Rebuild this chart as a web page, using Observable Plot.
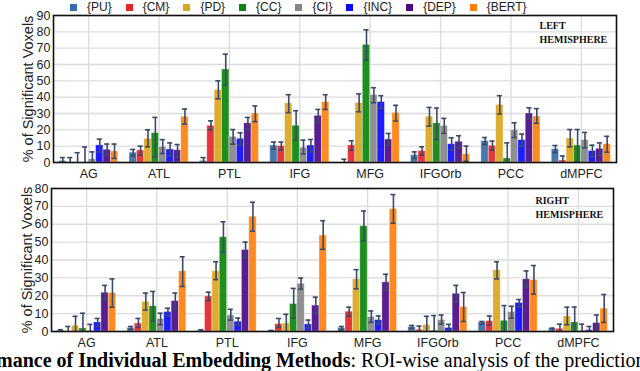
<!DOCTYPE html>
<html>
<head>
<meta charset="utf-8">
<script src="https://cdn.jsdelivr.net/npm/d3@7"></script>
<script src="https://cdn.jsdelivr.net/npm/@observablehq/plot@0.6"></script>
<style>
  html, body { margin: 0; padding: 0; background: #fff; }
  #wrap { position: relative; width: 640px; height: 371px; overflow: hidden; background: #fff; }
  #legend { position: absolute; left: 70px; top: 0px; height: 14px; display: flex; align-items: center; font-family: "Liberation Sans", Arial, sans-serif; font-size: 12px; line-height: 14px; color: #222; white-space: nowrap; }
  #legend .item { display: inline-flex; align-items: center; margin-right: 14px; }
  #legend .sw { display: inline-block; width: 7px; height: 7px; margin-right: 10px; }
  #top { position: absolute; left: 0; top: 0; }
  #bottom { position: absolute; left: 0; top: 182px; }
  #caption { position: absolute; left: -4px; top: 352px; white-space: nowrap; font-family: "Liberation Serif", "Times New Roman", serif; font-size: 20px; line-height: 16px; color: #000; }
  #caption b { font-weight: bold; }
</style>
</head>
<body>
<div id="wrap">
  <div id="top"></div>
  <div id="bottom"></div>
  <div id="legend"></div>
  <div id="caption"><b>mance of Individual Embedding Methods</b>: ROI-wise analysis of the prediction</div>
</div>
<script>
const rois = ["AG", "ATL", "PTL", "IFG", "MFG", "IFGOrb", "PCC", "dMPFC"];
const methods = ["{PU}", "{CM}", "{PD}", "{CC}", "{CI}", "{INC}", "{DEP}", "{BERT}"];
const colors = ["#3a6ba6", "#e3252b", "#daa520", "#0b850b", "#858585", "#0a0aff", "#4b0a86", "#ff800e"];
const yLabel = "% of Significant Voxels";
const leftTicks = [0, 10, 20, 30, 40, 50, 60, 70, 80, 90];
const rightTicks = [0, 10, 20, 30, 40, 50, 60, 70, 80];

// rows: ROI, columns: methods (PU, CM, PD, CC, CI, INC, DEP, BERT)
const leftMean = [
  [1, 0, 0, 0, 2, 10.5, 7.8, 6.8],
  [6, 7.4, 14.5, 18, 9.5, 8, 7.5, 28],
  [1, 22.5, 44.4, 57, 15.7, 14.5, 24, 30],
  [10.4, 10, 36.2, 22.5, 9, 10.4, 28.6, 37],
  [0, 10.5, 36.4, 72, 41.3, 37, 14.1, 30.3],
  [4.5, 7, 28, 24, 22.3, 11.2, 12.7, 5.1],
  [13.1, 10.2, 35.2, 2.5, 19.8, 13.7, 30, 28.2],
  [8.2, 1.2, 14.7, 10.4, 13.7, 7, 8.4, 11.2]
];
const leftHi = [
  [3, 3, 6, 9.5, 6.5, 14.3, 11.3, 11.3],
  [8, 10, 20, 27.6, 14, 12, 11, 32.7],
  [3, 25.5, 50, 66.3, 20.2, 18.2, 27.6, 34.6],
  [12.5, 12.5, 41.5, 31.7, 13.7, 14.1, 32.5, 41.5],
  [2, 13.3, 42, 81.2, 45.8, 40.9, 17.8, 35],
  [6.5, 9.6, 33.7, 33.3, 27, 15.1, 16.4, 10],
  [15.3, 13.1, 40.9, 12, 24.3, 17.4, 33.5, 33],
  [10.4, 4, 20.2, 20.2, 18.4, 10.6, 12, 16]
];
const leftLo = [
  [0, 0, 0, 0, 0, 6.5, 4.5, 2.5],
  [4, 4.5, 9.6, 3.5, 5.5, 4, 3.5, 23.5],
  [0, 20, 39, 47.4, 11.2, 10.6, 20.2, 25],
  [8.2, 7.6, 30.5, 13.7, 5.3, 6.5, 24.5, 32.5],
  [0, 7.6, 31, 62.8, 36.6, 33, 10.4, 25.4],
  [2.5, 4.5, 22.3, 14.1, 17.8, 7.6, 9, 0.8],
  [11, 7.6, 29.7, 0, 15.3, 10, 26.6, 24],
  [6.1, 0, 9.6, 0.4, 9, 3.5, 4.3, 6.3]
];
const rightMean = [
  [0.5, 0, 3.2, 1.7, 0.5, 5.1, 21.7, 21.5],
  [2, 4.5, 16.6, 14.1, 7, 10.9, 17, 33.7],
  [0.5, 19.6, 33.7, 52.7, 9, 5.5, 45.6, 64.2],
  [0.3, 4.1, 4.5, 15.4, 26.7, 4, 14.5, 53.7],
  [2, 11.1, 29.2, 58.9, 8.1, 6.4, 27.5, 68.5],
  [2.6, 1, 3.6, 0.5, 6.4, 2, 21.1, 13.7],
  [5.1, 5.8, 34.3, 6, 10.9, 16, 29.2, 28.8],
  [1.7, 1.5, 8.5, 5.1, 0.5, 0.8, 4.7, 12.8]
];
const rightHi = [
  [1, 2.8, 8.5, 10.2, 4, 7.3, 25.8, 29.4],
  [2.8, 7.3, 21.5, 22.4, 10.2, 13, 21.5, 41.8],
  [1, 22, 39, 61.4, 12.4, 7.5, 50, 72.3],
  [0.6, 7.3, 9.6, 24.1, 29.9, 6.4, 19.2, 62],
  [2.8, 13.6, 34.6, 67.4, 11.5, 8.7, 32, 76.6],
  [3.4, 3, 8.5, 8.9, 9.2, 4, 25.8, 21.8],
  [5.6, 8.7, 39, 14.5, 14.1, 17.9, 33.9, 36.9],
  [1.9, 4.1, 13.6, 13.7, 4.1, 2.8, 9.2, 20.7]
];
const rightLo = [
  [0, 0, 0, 0, 0, 2.8, 17.7, 13.6],
  [1.1, 2.3, 12, 5.8, 3.8, 8.9, 12.6, 25.2],
  [0, 17.3, 29, 44.4, 6.4, 3.4, 41.2, 56.1],
  [0, 2.3, 0, 7.5, 23.7, 2, 10.2, 46],
  [0.9, 8.7, 23.9, 50.7, 5.1, 4.1, 23, 60.6],
  [1.7, 0, 0, 0, 4.1, 0, 16.8, 5.6],
  [4.1, 3.6, 29.4, 0, 7.5, 13.9, 24.9, 20.9],
  [0, 0, 3.8, 0, 0, 0, 0, 5.1]
];

const BW = 0.105;   // bar width as a fraction of one ROI slot
const CAP = 0.036;  // half cap width

function buildRows(mean, lo, hi) {
  const rows = [];
  rois.forEach((roi, i) => {
    methods.forEach((m, j) => {
      const x1 = i + 0.5 + (j - 4) * BW;
      rows.push({roi, method: m, x1, x2: x1 + BW, c: x1 + BW / 2, v: mean[i][j], lo: lo[i][j], hi: hi[i][j]});
    });
  });
  return rows;
}

function panel(rows, yMax, yTicks, label, margins, height) {
  const roiTicks = rois.map((_, i) => i + 0.5);
  const err = "#3b4a68";
  return Plot.plot({
    width: 640,
    height,
    marginLeft: margins.left,
    marginRight: margins.right,
    marginTop: margins.top,
    marginBottom: margins.bottom,
    style: {fontFamily: "'Liberation Sans', Arial, sans-serif", fontSize: "12.5px", color: "#222", background: "transparent", overflow: "visible"},
    x: {domain: [0, rois.length]},
    y: {domain: [0, yMax]},
    color: {domain: methods, range: colors},
    marks: [
      Plot.gridY({ticks: yTicks, stroke: "#dcdcdc", strokeOpacity: 1, strokeWidth: 1.3}),
      Plot.gridX({ticks: roiTicks, stroke: "#dcdcdc", strokeOpacity: 1, strokeWidth: 1.3}),
      Plot.rectY(rows, {x1: "x1", x2: "x2", y1: 0, y2: "v", fill: "method", fillOpacity: 0.92, stroke: "white", strokeOpacity: 0.45, strokeWidth: 0.8}),
      Plot.ruleX(rows, {x: "c", y1: d => Math.max(0, d.lo), y2: "hi", stroke: err, strokeWidth: 1.6}),
      Plot.ruleY(rows, {y: "hi", x1: d => d.c - CAP, x2: d => d.c + CAP, stroke: err, strokeWidth: 1.6}),
      Plot.ruleY(rows.filter(d => d.lo > 0.3), {y: "lo", x1: d => d.c - CAP, x2: d => d.c + CAP, stroke: err, strokeWidth: 1.6}),
      Plot.frame({stroke: "#111", strokeWidth: 1.6}),
      Plot.axisY({ticks: yTicks, tickSize: 0, tickPadding: 3, label: null}),
      Plot.axisX({ticks: roiTicks, tickSize: 0, tickPadding: 7, label: null, tickFormat: d => rois[Math.floor(d)]}),
      Plot.text([yLabel], {frameAnchor: "left", textAnchor: "middle", rotate: -90, dx: margins.ylab, fontSize: 14.5, text: d => d, fill: "#222"}),
      Plot.text([label], {frameAnchor: "top-right", textAnchor: "start", lineAnchor: "top", dx: margins.hx, dy: margins.hy, fontSize: 10, fontWeight: "bold", fontFamily: "'Liberation Serif', 'Times New Roman', serif", lineHeight: 1.35, text: d => d, fill: "#111"})
    ]
  });
}

document.getElementById("top").append(
  panel(buildRows(leftMean, leftLo, leftHi), 90, leftTicks, "LEFT\nHEMISPHERE",
        {left: 53, right: 24, top: 15, bottom: 20, ylab: -25, hx: -77, hy: 4}, 182)
);
document.getElementById("bottom").append(
  panel(buildRows(rightMean, rightLo, rightHi), 80, rightTicks, "RIGHT\nHEMISPHERE",
        {left: 51, right: 27, top: 6, bottom: 19, ylab: -24, hx: -78, hy: 6}, 168)
);

// legend built from the method / colour arrays
const lg = d3.select("#legend");
methods.forEach((m, j) => {
  const it = lg.append("span").attr("class", "item");
  it.append("span").attr("class", "sw").style("background", colors[j]);
  it.append("span").text(m);
});
</script>
</body>
</html>
